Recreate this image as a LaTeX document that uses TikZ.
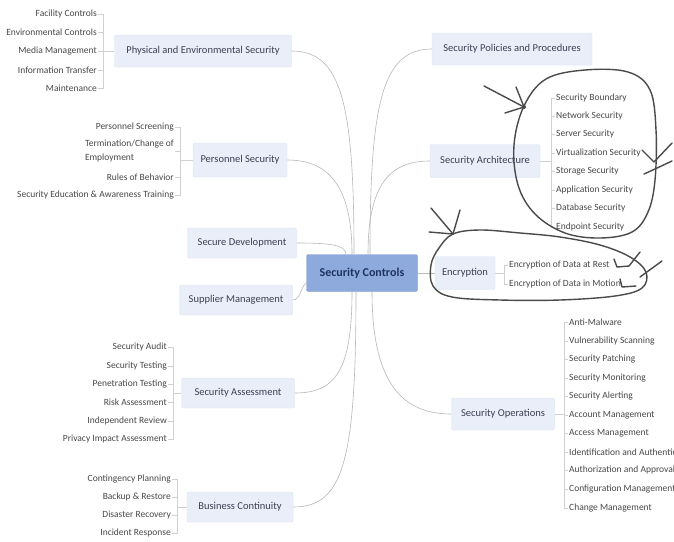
\documentclass[tikz,border=0pt]{standalone}
\usepackage{fontspec}
\setmainfont{Carlito}
\definecolor{boxfill}{HTML}{E9EEF9}
\definecolor{boxline}{HTML}{DCE3F1}
\definecolor{ctrfill}{HTML}{8EAADC}
\definecolor{ctrline}{HTML}{7D99CF}
\definecolor{ctrtext}{HTML}{1F3360}
\definecolor{maintext}{HTML}{3A4050}
\definecolor{leaftext}{HTML}{484848}
\definecolor{linkgray}{HTML}{B8B8B8}
\definecolor{spinegray}{HTML}{D0D0D0}
\definecolor{pencolor}{HTML}{4A4A4A}
\tikzset{
  mainbox/.style={draw=boxline, fill=boxfill, rounded corners=1.5pt, inner sep=0pt,
    font=\fontsize{10.5}{12}\selectfont, text=maintext},
  ctrbox/.style={draw=ctrline, fill=ctrfill, rounded corners=2pt, inner sep=0pt,
    font=\fontsize{12}{14}\selectfont\bfseries, text=ctrtext},
  leafL/.style={anchor=east, inner sep=1pt, font=\fontsize{9.5}{14}\selectfont, text=leaftext},
  leafR/.style={anchor=west, inner sep=1pt, font=\fontsize{9.5}{11}\selectfont, text=leaftext},
  link/.style={draw=linkgray, line width=0.6pt},
  spine/.style={draw=spinegray, line width=0.5pt},
  pen/.style={draw=pencolor, line width=1.4pt, line cap=round, line join=round}
}
\begin{document}
\begin{tikzpicture}[x=1pt,y=-1pt]
\useasboundingbox[fill=white] (0,0) rectangle (674,541);

% central and main nodes
\node[ctrbox, minimum width=111pt, minimum height=37pt] (ctr) at (362,273) {Security Controls};
\node[mainbox, minimum width=177pt, minimum height=32pt] (phys) at (203,51) {Physical and Environmental Security};
\node[mainbox, minimum width=94pt, minimum height=34pt] (pers) at (240,160) {Personnel Security};
\node[mainbox, minimum width=109pt, minimum height=30pt] (secdev) at (242,243) {Secure Development};
\node[mainbox, minimum width=113pt, minimum height=30pt] (supp) at (236,300) {Supplier Management};
\node[mainbox, minimum width=113pt, minimum height=30pt] (assess) at (238,393) {Security Assessment};
\node[mainbox, minimum width=106pt, minimum height=30pt] (cont) at (240,507) {Business Continuity};
\node[mainbox, minimum width=160pt, minimum height=32pt] (pol) at (512,49) {Security Policies and Procedures};
\node[mainbox, minimum width=110pt, minimum height=33pt] (arch) at (485,161) {Security Architecture};
\node[mainbox, minimum width=60pt, minimum height=33pt] (enc) at (465,273) {Encryption};
\node[mainbox, minimum width=103pt, minimum height=32pt] (ops) at (503,414) {Security Operations};

% main connectors
\draw[link] ([xshift=-8pt]ctr.north) .. controls +(0,-150) and +(50,0) .. (phys.east);
\draw[link] ([xshift=-10pt]ctr.north) .. controls +(0,-70) and +(40,0) .. (pers.east);
\draw[link] ([xshift=-16pt]ctr.north) .. controls +(0,-10) and +(30,0) .. (secdev.east);
\draw[link] ([yshift=-10pt]ctr.west) .. controls +(-6,4) and +(8,0) .. (supp.east);
\draw[link] ([xshift=-10pt]ctr.south) .. controls +(0,80) and +(40,0) .. (assess.east);
\draw[link] ([xshift=-6pt]ctr.south) .. controls +(0,170) and +(50,0) .. (cont.east);
\draw[link] ([xshift=8pt]ctr.north) .. controls +(0,-150) and +(-50,0) .. (pol.west);
\draw[link] ([xshift=6pt]ctr.north) .. controls +(0,-70) and +(-40,0) .. (arch.west);
\draw[link] (ctr.east) -- (enc.west);
\draw[link] ([xshift=10pt]ctr.south) .. controls +(0,90) and +(-50,0) .. (ops.west);

% Physical leaves
\coordinate (physsp) at (103,51);
\node[leafL] (p1) at (98,14) {Facility Controls};
\node[leafL] (p2) at (98,32) {Environmental Controls};
\node[leafL] (p3) at (98,51) {Media Management};
\node[leafL] (p4) at (98,70) {Information Transfer};
\node[leafL] (p5) at (98,88) {Maintenance};
\draw[spine] (phys.west) -- (physsp);
\foreach \n in {p1,p2,p3,p4,p5} \draw[spine] (physsp) |- (\n.east);

% Personnel leaves
\coordinate (perssp) at (180,160);
\node[leafL] (q1) at (175,127) {Personnel Screening};
\node[leafL, align=left] (q2) at (175,151) {Termination/Change of\\Employment};
\node[leafL] (q3) at (175,177) {Rules of Behavior};
\node[leafL] (q4) at (175,195) {Security Education \& Awareness Training};
\draw[spine] (pers.west) -- (perssp);
\foreach \n in {q1,q2,q3,q4} \draw[spine] (perssp) |- (\n.east);

% Assessment leaves
\coordinate (asssp) at (173,393);
\node[leafL] (a1) at (168,347) {Security Audit};
\node[leafL] (a2) at (168,366) {Security Testing};
\node[leafL] (a3) at (168,384) {Penetration Testing};
\node[leafL] (a4) at (168,402) {Risk Assessment};
\node[leafL] (a5) at (168,421) {Independent Review};
\node[leafL] (a6) at (168,439) {Privacy Impact Assessment};
\draw[spine] (assess.west) -- (asssp);
\foreach \n in {a1,a2,a3,a4,a5,a6} \draw[spine] (asssp) |- (\n.east);

% Continuity leaves
\coordinate (contsp) at (177,507);
\node[leafL] (b1) at (172,479) {Contingency Planning};
\node[leafL] (b2) at (172,497) {Backup \& Restore};
\node[leafL] (b3) at (172,515) {Disaster Recovery};
\node[leafL] (b4) at (172,533) {Incident Response};
\draw[spine] (cont.west) -- (contsp);
\foreach \n in {b1,b2,b3,b4} \draw[spine] (contsp) |- (\n.east);

% Architecture leaves
\coordinate (archsp) at (551,161);
\node[leafR] (r1) at (555,98) {Security Boundary};
\node[leafR] (r2) at (555,116) {Network Security};
\node[leafR] (r3) at (555,134) {Server Security};
\node[leafR] (r4) at (555,153) {Virtualization Security};
\node[leafR] (r5) at (555,171) {Storage Security};
\node[leafR] (r6) at (555,190) {Application Security};
\node[leafR] (r7) at (555,208) {Database Security};
\node[leafR] (r8) at (555,227) {Endpoint Security};
\draw[spine] (arch.east) -- (archsp);
\foreach \n in {r1,r2,r3,r4,r5,r6,r7,r8} \draw[spine] (archsp) |- (\n.west);

% Encryption leaves
\coordinate (encsp) at (504,273);
\node[leafR] (e1) at (508,265) {Encryption of Data at Rest};
\node[leafR] (e2) at (508,284) {Encryption of Data in Motion};
\draw[spine] (enc.east) -- (encsp);
\foreach \n in {e1,e2} \draw[spine] (encsp) |- (\n.west);

% Operations leaves
\coordinate (opssp) at (564,414);
\node[leafR] (o1) at (568,322) {Anti-Malware};
\node[leafR] (o2) at (568,341) {Vulnerability Scanning};
\node[leafR] (o3) at (568,359) {Security Patching};
\node[leafR] (o4) at (568,378) {Security Monitoring};
\node[leafR] (o5) at (568,396) {Security Alerting};
\node[leafR] (o6) at (568,415) {Account Management};
\node[leafR] (o7) at (568,433) {Access Management};
\node[leafR] (o8) at (568,452) {Identification and Authentication};
\node[leafR] (o9) at (568,470) {Authorization and Approval};
\node[leafR] (o10) at (568,489) {Configuration Management};
\node[leafR] (o11) at (568,508) {Change Management};
\draw[spine] (ops.east) -- (opssp);
\foreach \n in {o1,o2,o3,o4,o5,o6,o7,o8,o9,o10,o11} \draw[spine] (opssp) |- (\n.west);

% hand-drawn annotations
\draw[pen] plot[smooth cycle, tension=0.6] coordinates {(524,106) (546,79) (585,70) (628,72) (650,90) (656,130) (655,180) (648,212) (632,232) (600,238) (565,233) (535,214) (518,185) (514,145)};
\draw[pen] (524,107) -- (484,86);
\draw[pen] (524,107) -- (516,87);
\draw[pen] (524,107) -- (505,113);
\fill[pencolor] (524,107) circle (2pt);
\draw[pen] (642,150) -- (654,162) -- (672,143);
\draw[pen] (644,174) -- (655,169) -- (672,161);

\draw[pen] plot[smooth cycle, tension=0.6] coordinates {(453,234) (480,230) (520,233) (560,237) (600,245) (630,257) (646,272) (642,288) (615,296) (560,300) (500,300) (452,297) (433,286) (431,265) (439,248)};
\draw[pen] (453,234) -- (431,208);
\draw[pen] (453,234) -- (460,210);
\draw[pen] (453,234) -- (429,232);
\draw[pen] (614,259) -- (617,267) -- (629,266) -- (640,252);
\draw[pen] (620,279) -- (622,287) -- (636,286);
\draw[pen] (640,277) -- (662,261);
\end{tikzpicture}
\end{document}
